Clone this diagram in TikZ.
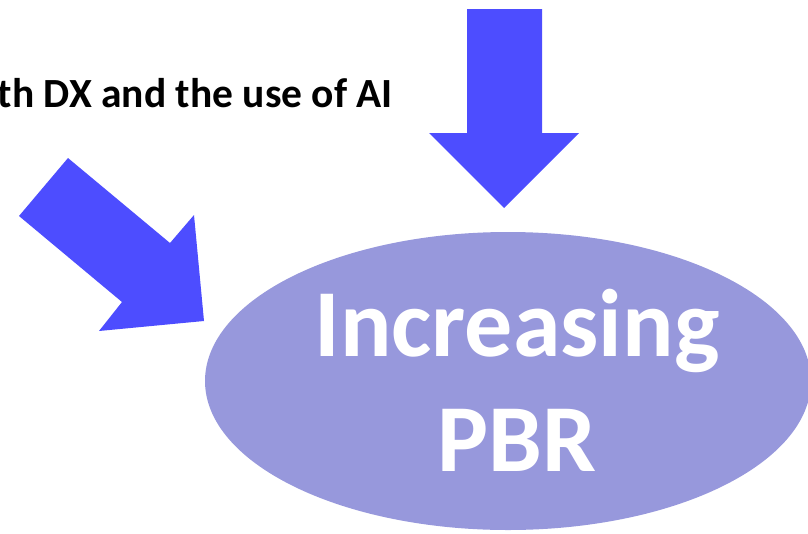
\documentclass[tikz,border=0pt]{standalone}
\usepackage{fontspec}
\setmainfont{Carlito}
\usetikzlibrary{shapes.geometric}
\definecolor{arrowblue}{RGB}{77,77,255}
\definecolor{ovalfill}{RGB}{151,152,220}

\begin{document}
\begin{tikzpicture}[
  x=1pt, y=1pt,
  every node/.style={inner sep=0pt},
  bigarrow/.style={fill=arrowblue},
  oval/.style    ={ellipse, fill=ovalfill, minimum width=606pt, minimum height=298pt},
  ovaltext/.style={text=white, font=\bfseries\fontsize{96}{115}\selectfont},
  topline/.style ={font=\bfseries\fontsize{41.5}{50}\selectfont}]
\useasboundingbox (0,0) rectangle (808,-533);

% ---------------------------- the goal --------------------------------
\node[oval] (goal) at (508,-381) {};
\node[ovaltext, anchor=base] (goalA) at ([xshift=9pt,yshift=25pt]goal.center) {Increasing};
\node[ovaltext, anchor=base] (goalB) at ([xshift=9pt,yshift=-90pt]goal.center) {PBR};

% --------------------------- the caption ------------------------------
\node[topline, anchor=base east] (cap) at (393,-107) {th DX and the use of AI};

% ---------------------------- the arrows ------------------------------
% from above
\fill[bigarrow] (467,-9) -- (542,-9) -- (542,-133) -- (579,-133)
  -- (504,-208) -- (429,-133) -- (467,-133) -- cycle;
% from the upper left
\fill[bigarrow] (68,-158) -- (170,-243) -- (194,-215) -- (204,-321)
  -- (99,-331) -- (122,-302) -- (19,-216) -- cycle;

\end{tikzpicture}
\end{document}
